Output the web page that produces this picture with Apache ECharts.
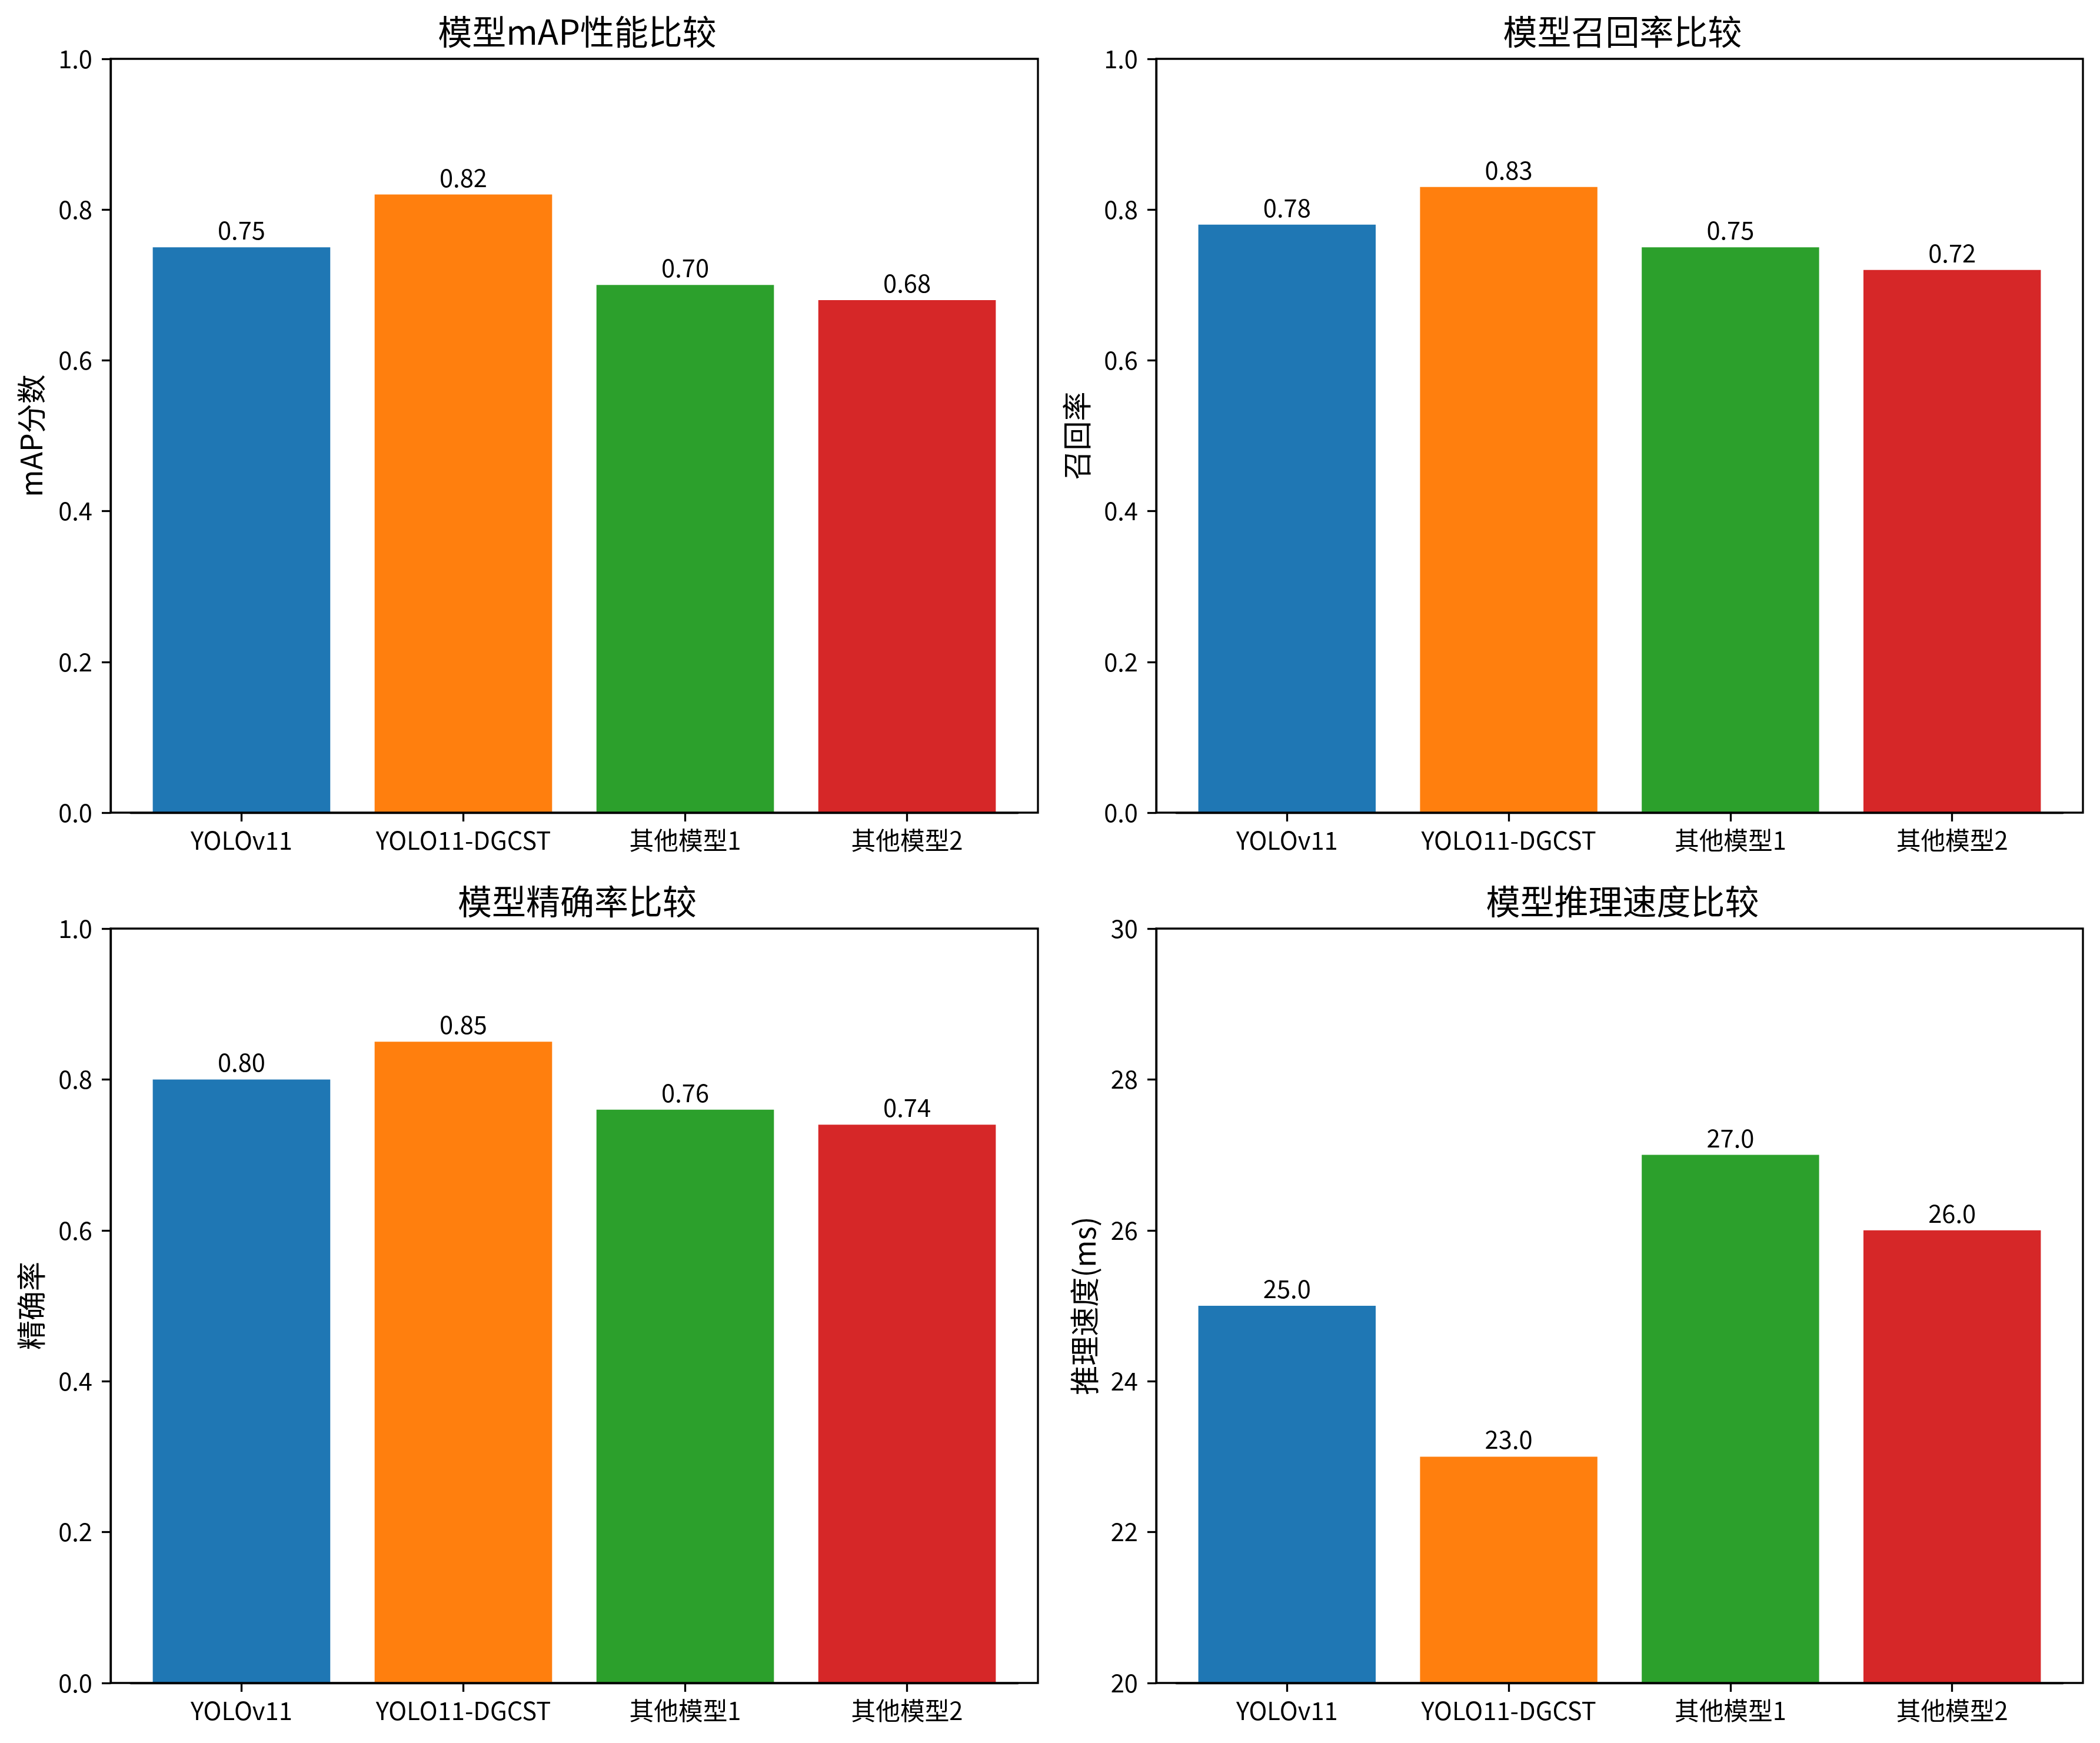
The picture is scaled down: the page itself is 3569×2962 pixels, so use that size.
<!DOCTYPE html>
<html>
<head>
<meta charset="utf-8">
<script src="https://cdn.jsdelivr.net/npm/echarts@6/dist/echarts.min.js"></script>
<style>html,body{margin:0;padding:0;background:#fff;}#c{width:3569px;height:2962px;}</style>
</head>
<body>
<div id="c"></div>
<script>
var categories = ['YOLOv11', 'YOLO11-DGCST', '其他模型1', '其他模型2'];
var colors = ['#1f77b4', '#ff7f0e', '#2ca02c', '#d62728'];
var mapValues = [0.75, 0.82, 0.70, 0.68];
var recallValues = [0.78, 0.83, 0.75, 0.72];
var precisionValues = [0.80, 0.85, 0.76, 0.74];
var speedValues = [25.0, 23.0, 27.0, 26.0];
var titles = ['模型mAP性能比较', '模型召回率比较', '模型精确率比较', '模型推理速度比较'];
var yNames = ['mAP分数', '召回率', '精确率', '推理速度(ms)'];
var yRanges = [[0, 1, 0.2], [0, 1, 0.2], [0, 1, 0.2], [20, 30, 2]];
var labelDecimals = [2, 2, 2, 1];
var tickDecimals = [1, 1, 1, 0];

var FONT = '"Noto Sans CJK SC", "Noto Sans", sans-serif';
var panels = [
  {left: 188, top: 100, width: 1576, height: 1281, gap: 110},
  {left: 1965, top: 100, width: 1575, height: 1281, gap: 110},
  {left: 188, top: 1578, width: 1576, height: 1282, gap: 110},
  {left: 1965, top: 1578, width: 1575, height: 1282, gap: 97}
];
var allValues = [mapValues, recallValues, precisionValues, speedValues];

var grids = [], xAxes = [], yAxes = [], series = [], titleList = [];
var LW = 3.3;
panels.forEach(function (p, i) {
  var step = p.width / 4.18;
  var inset = 0.09 * step;
  grids.push({left: p.left, top: p.top, width: p.width, height: p.height, show: true,
    borderColor: '#000', borderWidth: LW, backgroundColor: 'transparent', z: 5});
  grids.push({left: p.left + inset, top: p.top, width: p.width - 2 * inset, height: p.height});
  var fi = 2 * i, di = 2 * i + 1;
  var r = yRanges[i];
  xAxes.push({gridIndex: fi, type: 'value', show: false, min: 0, max: 1});
  yAxes.push({gridIndex: fi, type: 'value', min: r[0], max: r[1], interval: r[2],
    name: yNames[i], nameLocation: 'middle', nameGap: p.gap,
    nameTextStyle: {fontSize: 50, fontFamily: FONT, color: '#000'},
    axisLine: {show: true, lineStyle: {color: '#000', width: LW}},
    axisTick: {show: true, length: 15, lineStyle: {color: '#000', width: LW}},
    axisLabel: {fontSize: 41.7, fontFamily: FONT, color: '#000', margin: 31,
      formatter: (function (d) { return function (v) { return v.toFixed(d); }; })(tickDecimals[i])},
    splitLine: {show: false}, z: 6});
  xAxes.push({gridIndex: di, type: 'category', data: categories, boundaryGap: true,
    axisLine: {show: true, lineStyle: {color: '#000', width: LW}},
    axisTick: {show: true, interval: 0, alignWithLabel: true, length: 15, lineStyle: {color: '#000', width: LW}},
    axisLabel: {interval: 0, fontSize: 41.7, fontFamily: FONT, color: '#000', margin: 26},
    splitLine: {show: false}});
  yAxes.push({gridIndex: di, type: 'value', show: false, min: r[0], max: r[1], interval: r[2]});
  var vals = allValues[i];
  series.push({type: 'bar', xAxisIndex: i * 2 + 1, yAxisIndex: i * 2 + 1,
    barWidth: 0.8 * step,
    data: vals.map(function (v, k) { return {value: v, itemStyle: {color: colors[k]}}; }),
    label: {show: true, position: 'top', distance: 8, fontSize: 41.7, fontFamily: FONT, color: '#000',
      formatter: (function (d) { return function (pp) { return pp.value.toFixed(d); }; })(labelDecimals[i])}
  });
  titleList.push({text: titles[i], left: p.left + p.width / 2, top: p.top - 80, textAlign: 'center',
    textStyle: {fontSize: 58, fontWeight: 'normal', fontFamily: FONT, color: '#000'}});
});

var chart = echarts.init(document.getElementById('c'), null, {renderer: 'canvas'});
chart.setOption({
  animation: false,
  backgroundColor: '#fff',
  title: titleList,
  grid: grids,
  xAxis: xAxes,
  yAxis: yAxes,
  series: series
});
</script>
</body>
</html>
